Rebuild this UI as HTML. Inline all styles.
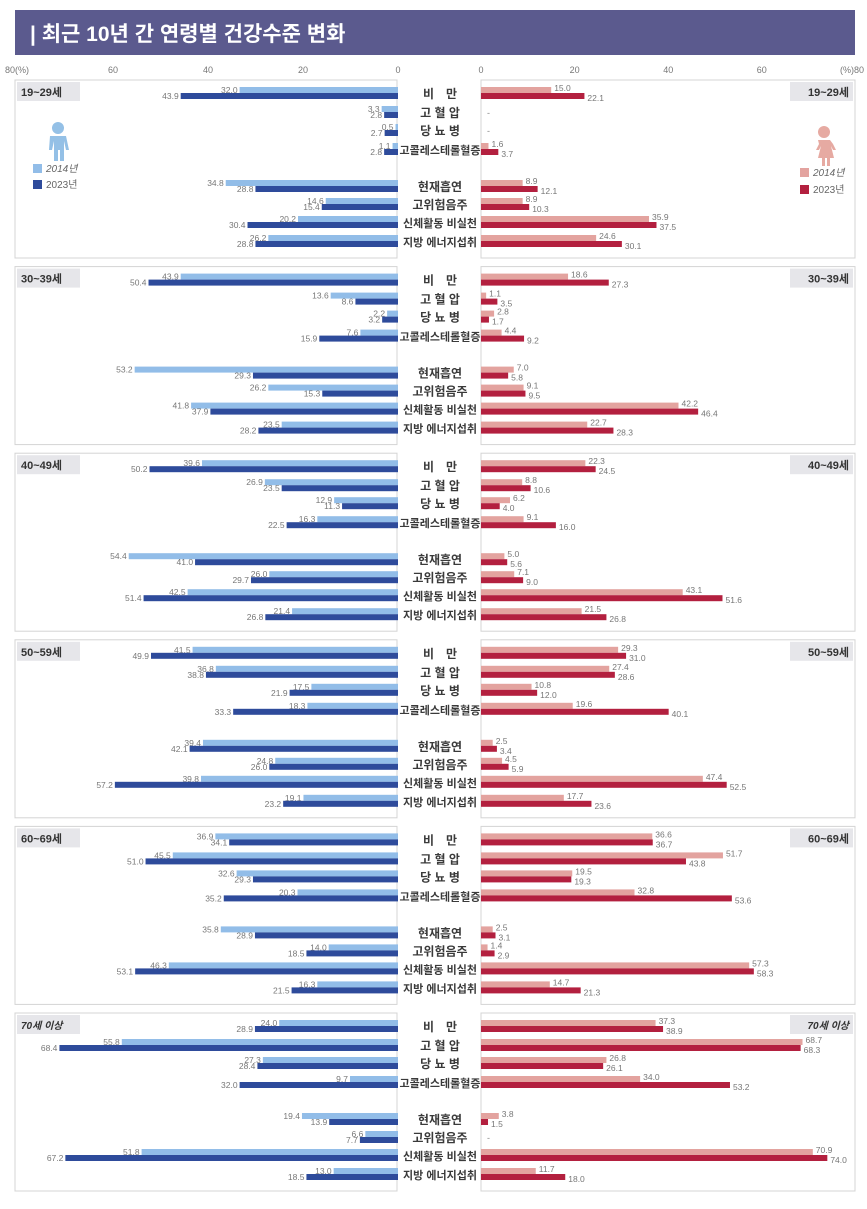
<!DOCTYPE html>
<html><head><meta charset="utf-8">
<style>
html,body{margin:0;padding:0;background:#fff;width:867px;height:1209px;overflow:hidden;}
svg{display:block;font-family:"Liberation Sans","Noto Sans CJK KR",sans-serif;}
</style></head>
<body>
<svg id="chart" width="867" height="1209" viewBox="0 0 867 1209">
  <rect x="15" y="10" width="840" height="45" fill="#5b5a8e"/>
  <text x="30" y="41" fill="#fff" font-size="21" font-weight="bold">| 최근 10년 간 연령별 건강수준 변화</text>
  <g id="axes"></g>
  <g id="panels"></g>
</svg>
<script>
const ageGroups = ["19~29세","30~39세","40~49세","50~59세","60~69세","70세 이상"];
const indicators = ["비　만","고 혈 압","당 뇨 병","고콜레스테롤혈증","현재흡연","고위험음주","신체활동 비실천","지방 에너지섭취"];
const male2014 = [
 [32.0,3.3,0.5,1.1,34.8,14.6,20.2,26.2],
 [43.9,13.6,2.2,7.6,53.2,26.2,41.8,23.5],
 [39.6,26.9,12.9,16.3,54.4,26.0,42.5,21.4],
 [41.5,36.8,17.5,18.3,39.4,24.8,39.8,19.1],
 [36.9,45.5,32.6,20.3,35.8,14.0,46.3,16.3],
 [24.0,55.8,27.3,9.7,19.4,6.6,51.8,13.0]];
const male2023 = [
 [43.9,2.8,2.7,2.8,28.8,15.4,30.4,28.8],
 [50.4,8.6,3.2,15.9,29.3,15.3,37.9,28.2],
 [50.2,23.5,11.3,22.5,41.0,29.7,51.4,26.8],
 [49.9,38.8,21.9,33.3,42.1,26.0,57.2,23.2],
 [34.1,51.0,29.3,35.2,28.9,18.5,53.1,21.5],
 [28.9,68.4,28.4,32.0,13.9,7.7,67.2,18.5]];
const female2014 = [
 [15.0,null,null,1.6,8.9,8.9,35.9,24.6],
 [18.6,1.1,2.8,4.4,7.0,9.1,42.2,22.7],
 [22.3,8.8,6.2,9.1,5.0,7.1,43.1,21.5],
 [29.3,27.4,10.8,19.6,2.5,4.5,47.4,17.7],
 [36.6,51.7,19.5,32.8,2.5,1.4,57.3,14.7],
 [37.3,68.7,26.8,34.0,3.8,null,70.9,11.7]];
const female2023 = [
 [22.1,null,null,3.7,12.1,10.3,37.5,30.1],
 [27.3,3.5,1.7,9.2,5.8,9.5,46.4,28.3],
 [24.5,10.6,4.0,16.0,5.6,9.0,51.6,26.8],
 [31.0,28.6,12.0,40.1,3.4,5.9,52.5,23.6],
 [36.7,43.8,19.3,53.6,3.1,2.9,58.3,21.3],
 [38.9,68.3,26.1,53.2,1.5,null,74.0,18.0]];
const leftTicks = ["80(%)","60","40","20","0"];
const leftTickVals = [80,60,40,20,0];
const rightTicks = ["0","20","40","60","(%)80"];
const rightTickVals = [0,20,40,60,80];

const NS="http://www.w3.org/2000/svg";
const L0=398, R0=481, KL=4.95, KR=4.68;
const xL=v=>L0-v*KL, xR=v=>R0+v*KR;
const C={m14:"#92bde8",m23:"#2e4b9b",f14:"#e3a39f",f23:"#b3203f"};
function mk(tag,attrs,parent,txt){const e=document.createElementNS(NS,tag);for(const k in attrs)e.setAttribute(k,attrs[k]);if(txt!=null)e.textContent=txt;parent.appendChild(e);return e;}
const axes=document.getElementById('axes'), panels=document.getElementById('panels');

leftTickVals.forEach((v,i)=>{
  const t=mk('text',{x:i==0?5:L0-v*4.75,y:73,'font-size':9,fill:'#777','text-anchor':i==0?'start':'middle'},axes,leftTicks[i]);
  
  
});
rightTickVals.forEach((v,i)=>{
  const t=mk('text',{x:i==4?864:xR(v),y:73,'font-size':9,fill:'#777','text-anchor':i==4?'end':'middle'},axes,rightTicks[i]);
  
  
});

const rowOff=[14,33,51,70,107,125,143,162];
ageGroups.forEach((age,p)=>{
  const top=80+p*186.6;
  const g=mk('g',{},panels);
  
  
  const lb=mk('rect',{x:15,y:top,width:382,height:178,fill:'#fff',stroke:'#d4d4d4'},g);
  
  
  const rb=mk('rect',{x:481,y:top,width:374,height:178,fill:'#fff',stroke:'#d4d4d4'},g);
  
  
  const it=p==5;
  const ab=mk('rect',{x:17,y:top+2,width:63,height:19,fill:'#e6e6ea'},g);
  
  
  const at=mk('text',{x:21,y:top+16,'font-size':it?10:11,'font-weight':'bold',fill:'#333','font-style':it?'italic':'normal'},g,age);
  
  
  const ab2=mk('rect',{x:790,y:top+2,width:63,height:19,fill:'#e6e6ea'},g);
  
  
  const at2=mk('text',{x:849,y:top+16,'font-size':it?10:11,'font-weight':'bold',fill:'#333','text-anchor':'end','font-style':it?'italic':'normal'},g,age);
  
  

  indicators.forEach((ind,i)=>{
    const c=top+rowOff[i];
    const lab=mk('text',{x:440,y:c+4,'font-size':ind.length>6?11:12,'font-weight':'bold',fill:'#3a3a3a','text-anchor':'middle'},g,ind);
    
    
    const sets=[[male2014[p][i],c-7,C.m14,'left'],[male2023[p][i],c-1,C.m23,'left'],[female2014[p][i],c-7,C.f14,'right'],[female2023[p][i],c-1,C.f23,'right']];
    sets.forEach(([v,y,col,side],k)=>{
      if(v==null){
        if(k==2){const d=mk('text',{x:R0+6,y:c+3,'font-size':9,fill:'#888'},g,'-');
          
          }
        return;
      }
      let r,t;
      if(side=='left'){
        const x=xL(v);
        r=mk('rect',{x:x,y:y,width:L0-x,height:6,fill:col},g);
        t=mk('text',{x:x-2,y:y+6,'font-size':8.5,fill:'#777','text-anchor':'end'},g,v.toFixed(1));
      } else {
        const x=xR(v);
        r=mk('rect',{x:R0,y:y,width:x-R0,height:6,fill:col},g);
        t=mk('text',{x:x+3,y:y+(k==2?4:8),'font-size':8.5,fill:'#777'},g,v.toFixed(1));
      }
      
      
      
      
    });
  });
});

const lg=mk('g',{},panels);


const boy=mk('g',{fill:'#94c0e6'},lg);


mk('circle',{cx:58,cy:128,r:6},boy);
mk('path',{d:'M50 136 h16 l3 14 h-3 l-2 -9 v20 h-4 v-11 h-2 v11 h-4 v-20 l-2 9 h-3 z'},boy);
const girl=mk('g',{fill:'#e6aaa2'},lg);


mk('circle',{cx:824,cy:132,r:6},girl);
mk('path',{d:'M818 140 h12 l3 4 l3 6 h-3 l-2 -4 l3 12 h-4 v8 h-3 v-8 h-2 v8 h-3 v-8 h-4 l3 -12 l-2 4 h-3 l3 -6 z'},girl);
const leg=[[33,172,C.m14,'2014년',true],[33,188,C.m23,'2023년',false],[800,176,C.f14,'2014년',true],[800,193,C.f23,'2023년',false]];
leg.forEach(([x,y,col,lbl,itl])=>{
  const s=mk('rect',{x:x,y:y-8,width:9,height:9,fill:col},lg);
  
  
  const t=mk('text',{x:x+13,y:y,'font-size':10,fill:'#666','font-style':itl?'italic':'normal'},lg,lbl);
  
  
});
</script>
</body></html>
